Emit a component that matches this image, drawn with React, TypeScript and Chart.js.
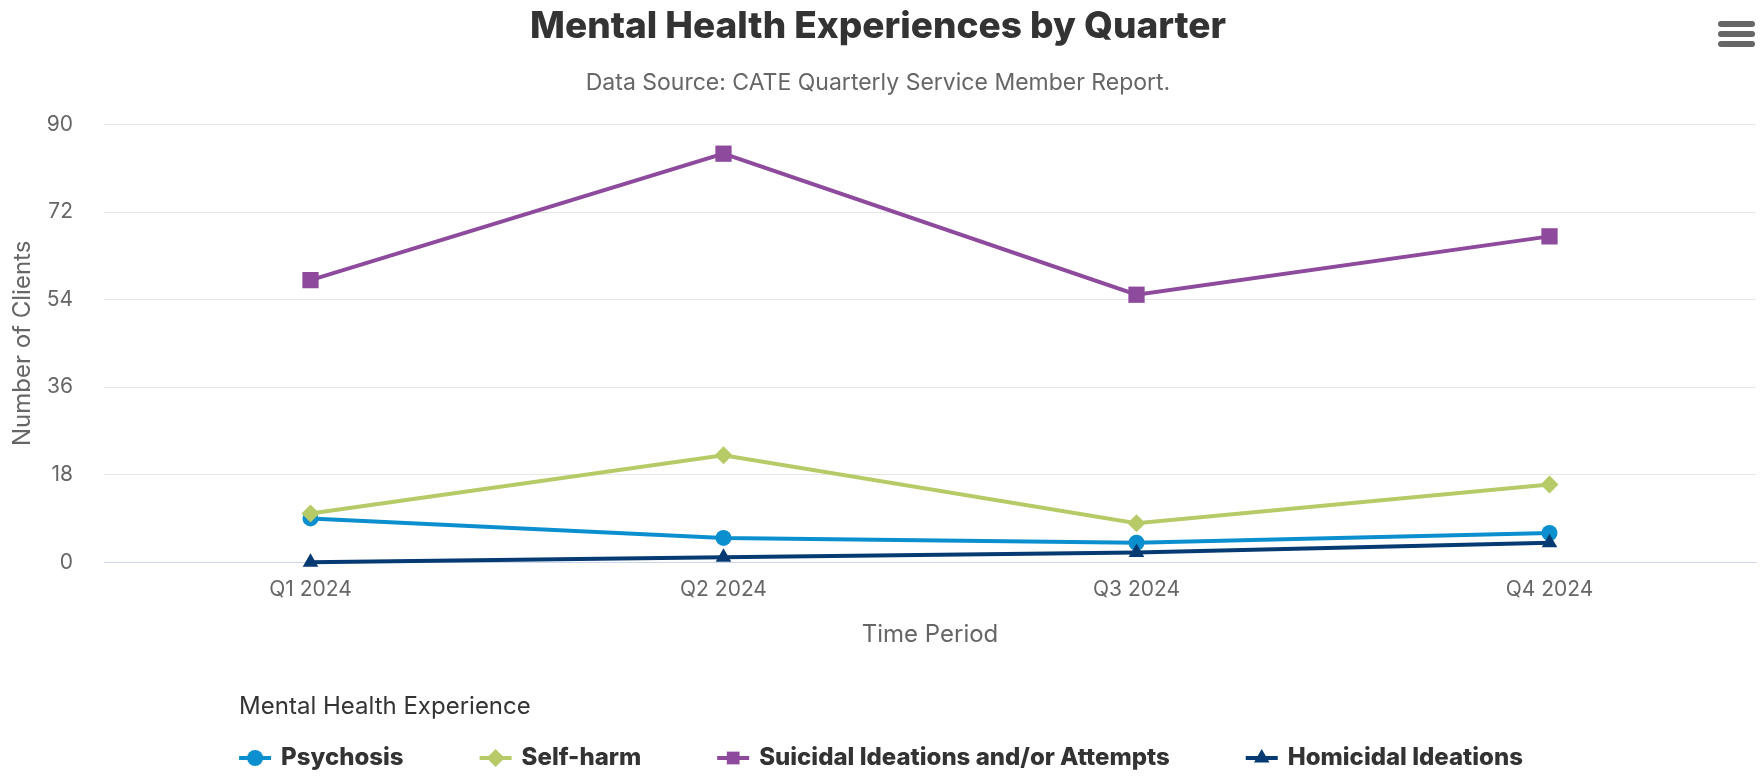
import React, { useEffect, useRef } from 'react';
import { Chart, registerables } from 'chart.js';
import { drawPoint } from 'chart.js/helpers';

Chart.register(...registerables);

const categories = ['Q1 2024', 'Q2 2024', 'Q3 2024', 'Q4 2024'];
const psychosis = [9, 5, 4, 6];
const selfHarm = [10, 22, 8, 16];
const suicidal = [58, 84, 55, 67];
const homicidal = [0, 1, 2, 4];
const yTickValues = [0, 18, 36, 54, 72, 90];

const seriesNames = ['Psychosis', 'Self-harm', 'Suicidal Ideations and/or Attempts', 'Homicidal Ideations'];
const seriesColors = ['#0b8fce', '#b7ca68', '#8e4a9c', '#053a72'];
const seriesMarkers = ['circle', 'rectRot', 'rect', 'triangle'];
const markerRadii = [8, 9, 11.5, 9];

const FONT = 'Inter, "Noto Sans", sans-serif';

const legendPlugin = {
  id: 'hcLegend',
  afterDraw(chart: any) {
    const ctx = chart.ctx as CanvasRenderingContext2D;
    const itemY = chart.height - 18;
    const titleY = itemY - 51;
    const symW = 32;
    const symGap = 10;
    const itemDist = 76;
    ctx.save();
    const itemFont = `800 24px ${FONT}`;
    ctx.font = itemFont;
    const dsets = chart.data.datasets;
    const widths = dsets.map((d: any) => ctx.measureText(d.label).width);
    let total = 0;
    widths.forEach((w: number, i: number) => {
      total += symW + symGap + w + (i > 0 ? itemDist : 0);
    });
    const startX = (chart.width - total) / 2;
    ctx.font = `400 24px ${FONT}`;
    ctx.fillStyle = '#333333';
    ctx.textAlign = 'left';
    ctx.textBaseline = 'middle';
    ctx.fillText('Mental Health Experience', startX, titleY);
    let x = startX;
    dsets.forEach((d: any, i: number) => {
      ctx.strokeStyle = d.borderColor;
      ctx.lineWidth = 4;
      ctx.beginPath();
      ctx.moveTo(x, itemY);
      ctx.lineTo(x + symW, itemY);
      ctx.stroke();
      ctx.fillStyle = d.borderColor;
      drawPoint(ctx, { pointStyle: d.pointStyle, rotation: 0, radius: Math.min(d.pointRadius, 9), borderWidth: 0 } as any, x + symW / 2, itemY);
      ctx.font = itemFont;
      ctx.fillStyle = '#333333';
      ctx.fillText(d.label, x + symW + symGap, itemY);
      x += symW + symGap + widths[i] + itemDist;
    });
    // export menu icon
    ctx.strokeStyle = '#666666';
    ctx.lineWidth = 6;
    ctx.lineCap = 'round';
    const rx = chart.width - 10;
    [24, 34, 44].forEach((yy) => {
      ctx.beginPath();
      ctx.moveTo(rx - 31, yy);
      ctx.lineTo(rx, yy);
      ctx.stroke();
    });
    ctx.restore();
  },
};

export default function App() {
  const canvasRef = useRef<HTMLCanvasElement | null>(null);

  useEffect(() => {
    document.body.style.margin = '0';
    const canvas = canvasRef.current;
    if (!canvas) return;
    const seriesData = [psychosis, selfHarm, suicidal, homicidal];
    const chart = new Chart(canvas, {
      type: 'line',
      data: {
        labels: categories,
        datasets: seriesData.map((data, i) => ({
          label: seriesNames[i],
          data,
          borderColor: seriesColors[i],
          backgroundColor: seriesColors[i],
          pointBackgroundColor: seriesColors[i],
          pointStyle: seriesMarkers[i] as any,
          pointRadius: markerRadii[i],
          pointHoverRadius: markerRadii[i],
          pointBorderWidth: 0,
          borderWidth: 4,
          tension: 0,
          fill: false,
          clip: false as any,
          order: seriesData.length - i,
        })),
      },
      options: {
        responsive: false,
        animation: false,
        devicePixelRatio: 1,
        layout: { autoPadding: false, padding: { left: 0, right: 6, top: 0, bottom: 127.2 } },
        plugins: {
          legend: { display: false },
          tooltip: { enabled: false },
          title: {
            display: true,
            text: 'Mental Health Experiences by Quarter',
            color: '#333333',
            font: { family: FONT, size: 37, weight: 800 as any },
            padding: { top: 5, bottom: 0 },
          },
          subtitle: {
            display: true,
            text: 'Data Source: CATE Quarterly Service Member Report.',
            color: '#666666',
            font: { family: FONT, size: 23, weight: 'normal' },
            padding: { top: 19.5, bottom: 28 },
          },
        },
        scales: {
          x: {
            offset: true,
            grid: { display: false, drawTicks: false },
            border: { display: true, color: '#ccd6eb', width: 1 },
            ticks: { color: '#666666', font: { family: FONT, size: 21 }, padding: 15 },
            title: {
              display: true,
              text: 'Time Period',
              color: '#666666',
              font: { family: FONT, size: 24 },
              padding: { top: 20, bottom: 0 },
            },
            afterFit: (s: any) => {
              s.paddingLeft = 0;
              s.paddingRight = 0;
              s.height = 86.6;
            },
          },
          y: {
            min: 0,
            max: 90,
            afterBuildTicks: (axis: any) => {
              axis.ticks = yTickValues.map((v) => ({ value: v }));
            },
            grid: {
              drawTicks: false,
              color: (c: any) => (c.tick && c.tick.value === 0 ? 'rgba(0,0,0,0)' : '#e6e6e6'),
              lineWidth: 1,
            },
            border: { display: false },
            ticks: { color: '#666666', font: { family: FONT, size: 21 }, padding: 31 },
            title: {
              display: true,
              text: 'Number of Clients',
              color: '#666666',
              font: { family: FONT, size: 24 },
              padding: { top: 8.6, bottom: 10 },
            },
            afterFit: (s: any) => {
              s.width = 104;
              s.paddingRight = 0;
            },
          },
        },
      },
      plugins: [legendPlugin],
    });
    return () => chart.destroy();
  }, []);

  return <canvas ref={canvasRef} width={1762} height={776} style={{ display: 'block' }} />;
}
